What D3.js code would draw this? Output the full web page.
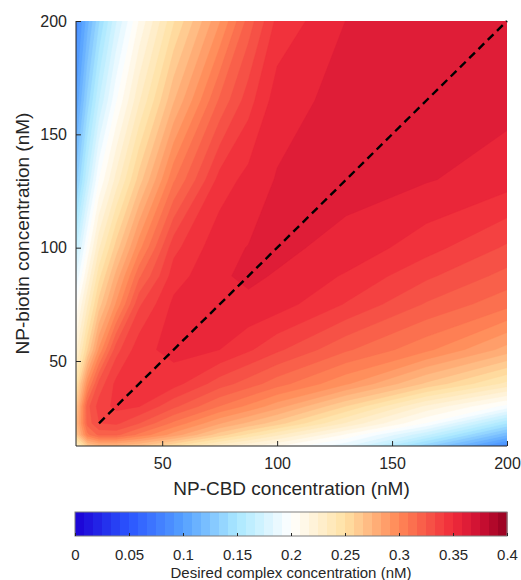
<!DOCTYPE html>
<html>
<head>
<meta charset="utf-8">
<script src="https://cdn.jsdelivr.net/npm/d3@7"></script>
<style>
  body { margin: 0; background: #fff; }
  text { font-family: "Liberation Sans", Arial, sans-serif; fill: #262626; }
</style>
</head>
<body>
<svg id="chart" width="521" height="580"></svg>
<script>
// sample positions of the grid (nM)
var cbdConc = [12.5, 17.5, 22.5, 30, 40, 55, 75, 87.5, 100, 130, 165, 200];
var biotinConc = [12.5, 17.5, 22.5, 30, 40, 55, 75, 87.5, 100, 130, 165, 200];

// desired complex concentration (nM): one row per NP-biotin value, one column per NP-CBD value
var complexConc = [
  [0.230, 0.262, 0.272, 0.272, 0.266, 0.250, 0.228, 0.218, 0.209, 0.185, 0.135, 0.085],
  [0.262, 0.306, 0.319, 0.319, 0.306, 0.288, 0.262, 0.248, 0.235, 0.207, 0.168, 0.118],
  [0.270, 0.320, 0.333, 0.335, 0.325, 0.306, 0.284, 0.273, 0.262, 0.232, 0.199, 0.150],
  [0.262, 0.322, 0.337, 0.344, 0.342, 0.327, 0.308, 0.298, 0.287, 0.258, 0.223, 0.197],
  [0.245, 0.297, 0.328, 0.344, 0.349, 0.345, 0.329, 0.321, 0.312, 0.293, 0.265, 0.239],
  [0.222, 0.258, 0.293, 0.330, 0.347, 0.353, 0.350, 0.343, 0.335, 0.318, 0.302, 0.280],
  [0.201, 0.232, 0.262, 0.293, 0.332, 0.352, 0.358, 0.357, 0.354, 0.341, 0.324, 0.311],
  [0.183, 0.217, 0.247, 0.278, 0.315, 0.346, 0.3575, 0.3595, 0.3578, 0.349, 0.335, 0.322],
  [0.165, 0.202, 0.232, 0.262, 0.297, 0.339, 0.356, 0.3586, 0.360, 0.356, 0.345, 0.332],
  [0.128, 0.166, 0.200, 0.228, 0.262, 0.307, 0.345, 0.353, 0.359, 0.361, 0.359, 0.354],
  [0.100, 0.136, 0.166, 0.199, 0.232, 0.274, 0.318, 0.338, 0.3545, 0.3615, 0.362, 0.361],
  [0.085, 0.113, 0.140, 0.174, 0.209, 0.249, 0.291, 0.320, 0.344, 0.3585, 0.361, 0.362]
];

// equal-ratio reference line (NP-CBD = NP-biotin)
var diagConc = [22.5, 200];

var xTicks = [50, 100, 150, 200];
var yTicks = [50, 100, 150, 200];
var cbarTicks = [0, 0.05, 0.1, 0.15, 0.2, 0.25, 0.3, 0.35, 0.4];

// colormap
var cmapStops = [0, 0.05, 0.1, 0.15, 0.2, 0.25, 0.3, 0.35, 0.375, 0.4];
var cmapColors = ["#1c00d4", "#2a55ff", "#55a0ff", "#aae8ff", "#ffffff", "#ffe2a4", "#ff8756", "#f02a3a", "#cd0f33", "#960021"];
var nBands = 48;

(function () {
  var svg = d3.select("#chart");
  var pL = 76, pR = 507, pT = 21, pB = 446;

  var x = d3.scaleLinear().domain([12.5, 200]).range([pL, pR]);
  var y = d3.scaleLinear().domain([12.5, 200]).range([pB, pT]);
  var cmap = d3.scaleLinear().domain(cmapStops).range(cmapColors).interpolate(d3.interpolateRgb).clamp(true);

  var step = 0.4 / nBands;
  var levels = d3.range(0, nBands).map(function (k) { return k * step; });
  function bandColor(lv) { return cmap(lv + step / 2); }

  // contours on the grid
  var nx = cbdConc.length, ny = biotinConc.length;
  var values = [];
  complexConc.forEach(function (row) { row.forEach(function (v) { values.push(v); }); });
  var contours = d3.contours().size([nx, ny]).thresholds(levels)(values);

  var gx = d3.scaleLinear().domain(d3.range(nx).map(function (i) { return i + 0.5; })).range(cbdConc).clamp(true);
  var gy = d3.scaleLinear().domain(d3.range(ny).map(function (j) { return j + 0.5; })).range(biotinConc).clamp(true);
  var proj = d3.geoTransform({
    point: function (px, py) { this.stream.point(x(gx(px)), y(gy(py))); }
  });
  var path = d3.geoPath(proj);

  svg.append("clipPath").attr("id", "plotclip")
    .append("rect").attr("x", pL).attr("y", pT).attr("width", pR - pL).attr("height", pB - pT);

  svg.append("g").attr("clip-path", "url(#plotclip)")
    .selectAll("path").data(contours).enter().append("path")
    .attr("d", path)
    .attr("fill", function (d) { return bandColor(d.value); })
    .attr("stroke", function (d) { return bandColor(d.value); })
    .attr("stroke-width", 0.4)
    .attr("fill-rule", "evenodd");

  // dashed line
  svg.append("line")
    .attr("x1", x(diagConc[0])).attr("y1", y(diagConc[0]))
    .attr("x2", x(diagConc[1])).attr("y2", y(diagConc[1]))
    .attr("stroke", "#000").attr("stroke-width", 2.4)
    .attr("stroke-dasharray", "8,5");

  // axes
  var xAxis = d3.axisBottom(x).tickValues(xTicks).tickSize(-5).tickPadding(12);
  var yAxis = d3.axisLeft(y).tickValues(yTicks).tickSize(-5).tickPadding(9);

  var gX = svg.append("g").attr("transform", "translate(0," + pB + ")").call(xAxis);
  var gY = svg.append("g").attr("transform", "translate(" + pL + ",0)").call(yAxis);
  [gX, gY].forEach(function (g) {
    g.select(".domain").attr("stroke", "#262626").attr("stroke-width", 1);
    g.selectAll(".tick line").attr("stroke", "#262626");
    g.selectAll(".tick text").style("font-size", "16px").attr("fill", "#262626");
  });
  gX.select(".domain").attr("d", "M" + pL + ",0H" + pR);
  gY.select(".domain").attr("d", "M0," + pB + "V" + pT);

  svg.append("text")
    .attr("x", (pL + pR) / 2).attr("y", 495)
    .attr("text-anchor", "middle").style("font-size", "19px")
    .text("NP-CBD concentration (nM)");

  svg.append("text")
    .attr("transform", "translate(29," + ((pT + pB) / 2) + ") rotate(-90)")
    .attr("text-anchor", "middle").style("font-size", "19px")
    .text("NP-biotin concentration (nM)");

  // colorbar
  var cbL = 75, cbR = 507, cbT = 512, cbB = 536;
  var cx = d3.scaleLinear().domain([0, 0.4]).range([cbL, cbR]);

  svg.append("g").selectAll("rect").data(levels).enter().append("rect")
    .attr("x", function (d) { return cx(d); })
    .attr("y", cbT)
    .attr("width", cx(step) - cx(0) + 0.5)
    .attr("height", cbB - cbT)
    .attr("fill", function (d) { return bandColor(d); });

  svg.append("rect")
    .attr("x", cbL).attr("y", cbT)
    .attr("width", cbR - cbL).attr("height", cbB - cbT)
    .attr("fill", "none").attr("stroke", "#7f7f7f").attr("stroke-width", 1);

  var cAxis = d3.axisBottom(cx).tickValues(cbarTicks).tickSize(-3).tickPadding(13)
    .tickFormat(function (d) { return String(+d.toFixed(2)); });
  var gC = svg.append("g").attr("transform", "translate(0," + cbB + ")").call(cAxis);
  gC.select(".domain").remove();
  gC.selectAll(".tick line").attr("stroke", "#262626");
  gC.selectAll(".tick text").style("font-size", "15px").attr("fill", "#262626");

  svg.append("text")
    .attr("x", (cbL + cbR) / 2).attr("y", 578)
    .attr("text-anchor", "middle").style("font-size", "15px")
    .text("Desired complex concentration (nM)");
})();
</script>
</body>
</html>
